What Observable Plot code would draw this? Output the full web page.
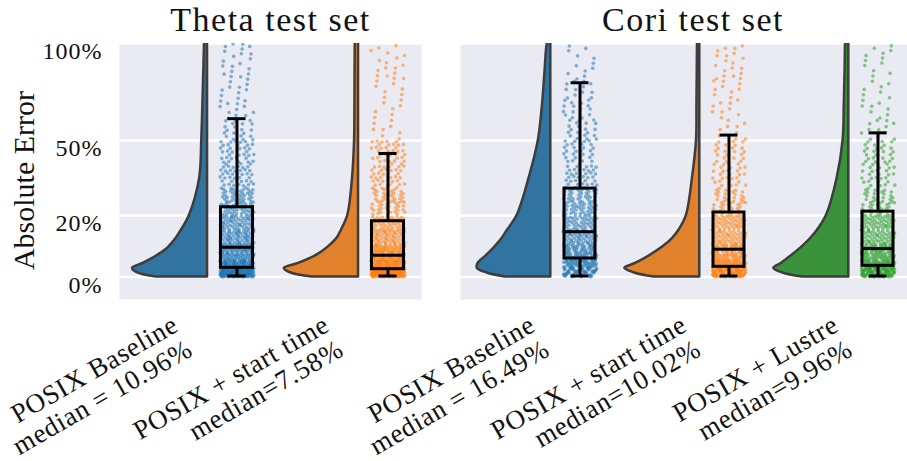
<!DOCTYPE html>
<html><head><meta charset="utf-8">
<script src="https://cdn.jsdelivr.net/npm/d3@7"></script>
<script src="https://cdn.jsdelivr.net/npm/@observablehq/plot@0.6"></script>
<style>
body{margin:0;background:#fff;}
#wrap{position:relative;width:907px;height:461px;overflow:hidden;}
#wrap svg{position:absolute;top:0;}
</style></head><body><div id="wrap"></div>
<script>
// ---------- data ----------
const panelTitles = ["Theta test set", "Cori test set"];
const thetaLabels = ["POSIX Baseline\nmedian = 10.96%", "POSIX + start time\nmedian=7.58%"];
const coriLabels = ["POSIX Baseline\nmedian = 16.49%", "POSIX + start time\nmedian=10.02%", "POSIX + Lustre\nmedian=9.96%"];
const yTicks = [0, 0.2, 0.5, 1];
const yLabel = "Absolute Error";

const dotColors = ["#1f77b4", "#ff7f0e", "#2ca02c"];
const violinColors = ["#3274a1", "#e1812c", "#3a923a"];

// half-violin density profiles (relative width, 1 = widest) at these error values (%)
const violinY = [0, 1.2, 2.6, 4.1, 6.7, 9.2, 12.1, 14.8, 20.1, 34, 50, 67, 84, 100, 106];
const thetaBaseW  = [0.68, 0.93, 1.0, 0.86, 0.66, 0.52, 0.42, 0.35, 0.24, 0.105, 0.077, 0.062, 0.05, 0.04, 0.038];
const thetaStartW = [0.62, 0.90, 0.99, 0.80, 0.556, 0.41, 0.29, 0.23, 0.143, 0.08, 0.053, 0.048, 0.046, 0.044, 0.043];
const coriBaseW   = [0.605, 0.85, 0.98, 0.97, 0.852, 0.75, 0.65, 0.58, 0.448, 0.29, 0.166, 0.11, 0.077, 0.046, 0.0];
const coriStartW  = [0.61, 0.87, 1.0, 0.857, 0.656, 0.5, 0.365, 0.28, 0.178, 0.098, 0.044, 0.038, 0.034, 0.031, 0.03];
const coriLustreW = [0.62, 0.88, 1.0, 0.9, 0.756, 0.63, 0.51, 0.42, 0.297, 0.156, 0.076, 0.06, 0.05, 0.044, 0.042];

// box stats (%): [lower whisker, Q1, median, Q3, upper whisker]
const thetaBaseBox  = [0.3, 2.77, 9.25, 23.0, 60.0];
const thetaStartBox = [0.3, 2.34, 6.7, 18.0, 44.3];
const coriBaseBox   = [0.3, 5.64, 14.4, 30.0, 78.0];
const coriStartBox  = [0.3, 3.07, 8.6, 21.1, 52.4];
const coriLustreBox = [0.3, 3.38, 8.8, 21.4, 53.4];

// strip-plot point counts per error bin (%)
const binEdges = [0, 1, 2, 3, 5, 7.5, 10, 15, 20, 25, 30, 40, 50, 60, 70, 80, 90, 100];
const thetaBaseCounts  = [65, 60, 55, 70, 55, 50, 70, 55, 45, 35, 45, 35, 20, 12, 10, 10, 10];
const thetaStartCounts = [70, 65, 55, 75, 70, 55, 65, 45, 30, 25, 40, 35, 8, 7, 7, 10, 7];
const coriBaseCounts   = [20, 22, 25, 45, 45, 38, 60, 45, 40, 32, 40, 28, 20, 16, 12, 7, 5];
const coriStartCounts  = [40, 38, 37, 50, 45, 40, 55, 50, 25, 20, 30, 22, 10, 9, 9, 10, 9];
const coriLustreCounts = [38, 37, 38, 50, 45, 42, 55, 50, 25, 20, 30, 25, 12, 8, 7, 5, 7];

// ---------- drawing ----------
const FONT = "Liberation Serif, Times New Roman, serif";

function stripPoints(counts, center, jitter) {
  const pts = [];
  let k = 0;
  counts.forEach((n, b) => {
    const lo = binEdges[b], hi = binEdges[b + 1];
    for (let i = 0; i < n; i++, k++) {
      const u = (0.5 + k * 0.7548776662) % 1;
      const w = (0.5 + k * 0.5698402909) % 1;
      pts.push({x: center + (u - 0.5) * jitter, y: (lo + w * (hi - lo)) / 100});
    }
  });
  return pts;
}

function panel(cfg) {
  const n = cfg.labels.length;
  const marks = [
    Plot.frame({fill: "#eaeaf2", stroke: null}),
    Plot.gridY(yTicks, {stroke: "white", strokeOpacity: 1, strokeWidth: 2.5})
  ];
  cfg.series.forEach((s, i) => {
    const edge = i + cfg.edgeOff;
    const vd = violinY.map((v, j) => ({y: v / 100, x1: edge - s.w[j] * cfg.violinMax, x2: edge}));
    marks.push(Plot.areaX(vd, {y: "y", x1: "x1", x2: "x2", curve: "catmull-rom",
      fill: violinColors[s.c], stroke: "#3d3d3d", strokeWidth: 2.5, clip: true}));
    const bc = i + cfg.boxOff;
    marks.push(Plot.dot(stripPoints(s.counts, bc, cfg.jitter), {x: "x", y: "y", r: 1.8,
      fill: dotColors[s.c], fillOpacity: 0.55, stroke: null, clip: true}));
    const b = s.box.map(v => v / 100);
    const bx = [{lo: b[0], q1: b[1], med: b[2], q3: b[3], hi: b[4]}];
    marks.push(
      Plot.ruleX(bx, {x: () => bc, y1: "q3", y2: "hi", stroke: "black", strokeWidth: 3}),
      Plot.ruleX(bx, {x: () => bc, y1: "lo", y2: "q1", stroke: "black", strokeWidth: 3}),
      Plot.ruleY(bx, {y: "hi", x1: () => bc - cfg.capHalf, x2: () => bc + cfg.capHalf, stroke: "black", strokeWidth: 3}),
      Plot.ruleY(bx, {y: "lo", x1: () => bc - cfg.capHalf, x2: () => bc + cfg.capHalf, stroke: "black", strokeWidth: 3}),
      Plot.rect(bx, {x1: () => bc - cfg.boxHalf, x2: () => bc + cfg.boxHalf, y1: "q1", y2: "q3",
        fill: "none", stroke: "black", strokeWidth: 3}),
      Plot.ruleY(bx, {y: "med", x1: () => bc - cfg.boxHalf, x2: () => bc + cfg.boxHalf, stroke: "black", strokeWidth: 3})
    );
  });
  marks.push(Plot.text([cfg.title], {frameAnchor: "top", dx: cfg.titleDx, dy: -23, fontSize: 34,
    lineAnchor: "middle", textAnchor: "middle", fill: "#111"}));
  marks.push(Plot.text(cfg.labels, {x: (d, i) => i * cfg.labelStep, frameAnchor: "bottom", rotate: -30,
    textAnchor: "end", lineAnchor: "top", fontSize: 27, lineHeight: 1.05, dx: cfg.labelDx, dy: 13,
    fill: "#111"}));
  if (cfg.showY) {
    marks.push(Plot.axisY({ticks: yTicks, tickFormat: d3.format(".0%"), tickSize: 0, tickPadding: 17,
      fontSize: 24, dy: 8, label: null, fill: "#111"}));
    marks.push(Plot.text([yLabel], {frameAnchor: "left", dx: -95, dy: 9, rotate: -90, fontSize: 30,
      lineAnchor: "middle", textAnchor: "middle", fill: "#111"}));
  }
  const svg = Plot.plot({
    width: cfg.width, height: 461,
    marginLeft: cfg.marginLeft, marginRight: 0, marginTop: 43, marginBottom: 162,
    style: {fontFamily: FONT, background: "transparent", overflow: "visible"},
    x: {type: "linear", domain: [-0.5, n - 0.5], axis: null},
    y: {type: "symlog", constant: 1, domain: [-0.0691, 1], axis: null},
    marks
  });
  // widen letter spacing to approximate the reference's broader serif face
  const flatLabels = cfg.labels.map(l => l.replace("\n", ""));
  d3.select(svg).selectAll("text").each(function () {
    const t = this.textContent;
    if (t === cfg.title) this.setAttribute("letter-spacing", "1.5");
    else if (flatLabels.includes(t)) this.setAttribute("letter-spacing", "0.7");
    else if (/^\d+%$/.test(t)) this.setAttribute("letter-spacing", "1");
  });
  svg.style.left = cfg.left + "px";
  return svg;
}

const wrap = document.getElementById("wrap");
wrap.appendChild(panel({
  title: panelTitles[0], labels: thetaLabels, showY: true, titleDx: 0,
  left: 0, width: 421, marginLeft: 119, labelDx: -25, labelStep: 1,
  edgeOff: 0.083, boxOff: 0.278, violinMax: 0.497, boxHalf: 0.106, capHalf: 0.06, jitter: 0.225,
  series: [
    {c: 0, w: thetaBaseW, box: thetaBaseBox, counts: thetaBaseCounts},
    {c: 1, w: thetaStartW, box: thetaStartBox, counts: thetaStartCounts}
  ]
}));
wrap.appendChild(panel({
  title: panelTitles[1], labels: coriLabels, showY: false, titleDx: 9,
  left: 300, width: 607, marginLeft: 160, labelDx: -8, labelStep: 1.017,
  edgeOff: 0.106, boxOff: 0.302, violinMax: 0.503, boxHalf: 0.104, capHalf: 0.06, jitter: 0.225,
  series: [
    {c: 0, w: coriBaseW, box: coriBaseBox, counts: coriBaseCounts},
    {c: 1, w: coriStartW, box: coriStartBox, counts: coriStartCounts},
    {c: 2, w: coriLustreW, box: coriLustreBox, counts: coriLustreCounts}
  ]
}));
</script></body></html>
